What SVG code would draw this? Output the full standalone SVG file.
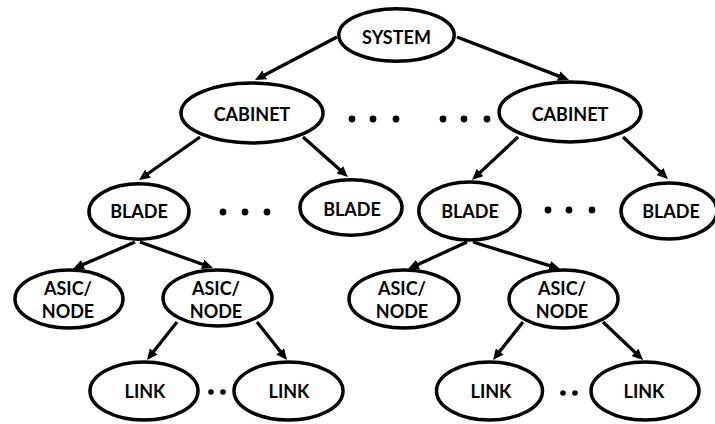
<svg xmlns="http://www.w3.org/2000/svg" width="715" height="424" viewBox="0 0 715 424">
  <style>
    .node ellipse { fill: #ffffff; stroke: #000000; stroke-width: 3.5; }
    .node text { font-family: Lato, "Liberation Sans", Arial, sans-serif; font-weight: bold; font-size: 18px; fill: #000000; text-anchor: middle; }
    .edges line { stroke: #000000; stroke-width: 3.3; marker-end: url(#arrow); }
    .dots circle { fill: #000000; }
  </style>
  <defs>
    <marker id="arrow" markerUnits="userSpaceOnUse" markerWidth="12" markerHeight="10" refX="5" refY="5" orient="auto">
      <path d="M0,0 L11,5 L0,10 z" fill="#000000"/>
    </marker>
  </defs>
  <rect width="715" height="424" fill="#ffffff"/>

  <!-- parent-to-child arrows -->
  <g id="connectors" class="edges">
    <line x1="337" y1="37" x2="260.3" y2="77.2"/>
    <line x1="457" y1="37" x2="563.4" y2="77.9"/>
    <line x1="200" y1="137" x2="143.9" y2="176.5"/>
    <line x1="303" y1="137" x2="343.5" y2="173"/>
    <line x1="518" y1="137" x2="476.4" y2="175.9"/>
    <line x1="623" y1="137" x2="663.6" y2="174.9"/>
    <line x1="135" y1="242" x2="78.5" y2="266.6"/>
    <line x1="140" y1="242" x2="207.3" y2="266"/>
    <line x1="467" y1="242" x2="413.5" y2="266.5"/>
    <line x1="473" y1="242" x2="554.3" y2="267.2"/>
    <line x1="177" y1="322" x2="150.7" y2="355.3"/>
    <line x1="257" y1="322" x2="283.3" y2="355.3"/>
    <line x1="523" y1="322" x2="496.7" y2="355.3"/>
    <line x1="603" y1="322" x2="638.7" y2="355.9"/>
  </g>

  <!-- ellipsis marks between siblings -->
  <g id="ellipses" class="dots">
    <circle cx="352" cy="119" r="3.4"/>
    <circle cx="373" cy="119" r="3.4"/>
    <circle cx="396" cy="119" r="3.4"/>
    <circle cx="443" cy="119" r="3.4"/>
    <circle cx="464" cy="119" r="3.4"/>
    <circle cx="487" cy="119" r="3.4"/>
    <circle cx="223" cy="212" r="3.4"/>
    <circle cx="245" cy="212" r="3.4"/>
    <circle cx="267" cy="212" r="3.4"/>
    <circle cx="548" cy="210" r="3.4"/>
    <circle cx="569" cy="210" r="3.4"/>
    <circle cx="592" cy="210" r="3.4"/>
    <circle cx="211" cy="392" r="2.8"/>
    <circle cx="223" cy="392" r="2.8"/>
    <circle cx="563" cy="393" r="2.8"/>
    <circle cx="575" cy="393" r="2.8"/>
  </g>

  <g id="system" class="node">
    <ellipse cx="396.5" cy="35" rx="57.7" ry="26.3"/>
    <text x="396.5" y="44">SYSTEM</text>
  </g>

  <g id="cabinet-1" class="node">
    <ellipse cx="252" cy="113" rx="71" ry="30"/>
    <text x="252" y="121">CABINET</text>
  </g>
  <g id="cabinet-2" class="node">
    <ellipse cx="570" cy="112" rx="71" ry="30"/>
    <text x="570" y="121">CABINET</text>
  </g>

  <g id="blade-1a" class="node">
    <ellipse cx="139" cy="211.5" rx="50" ry="27.7"/>
    <text x="139" y="218">BLADE</text>
  </g>
  <g id="blade-1b" class="node">
    <ellipse cx="351" cy="207.5" rx="51" ry="27.7"/>
    <text x="352" y="216">BLADE</text>
  </g>
  <g id="blade-2a" class="node">
    <ellipse cx="469.5" cy="211" rx="50.7" ry="29"/>
    <text x="470" y="218">BLADE</text>
  </g>
  <g id="blade-2b" class="node">
    <ellipse cx="669" cy="211" rx="48" ry="28"/>
    <text x="671" y="218">BLADE</text>
  </g>

  <g id="asic-1a" class="node">
    <ellipse cx="69" cy="299" rx="54" ry="29"/>
    <text x="68" y="295">ASIC/</text>
    <text x="68" y="318">NODE</text>
  </g>
  <g id="asic-1b" class="node">
    <ellipse cx="217.5" cy="298" rx="54.5" ry="28"/>
    <text x="216" y="295">ASIC/</text>
    <text x="216" y="318">NODE</text>
  </g>
  <g id="asic-2a" class="node">
    <ellipse cx="404" cy="299" rx="55" ry="29"/>
    <text x="402" y="295">ASIC/</text>
    <text x="402" y="318">NODE</text>
  </g>
  <g id="asic-2b" class="node">
    <ellipse cx="563.5" cy="299" rx="54.5" ry="29"/>
    <text x="562" y="295">ASIC/</text>
    <text x="562" y="318">NODE</text>
  </g>

  <g id="link-1a" class="node">
    <ellipse cx="144" cy="391" rx="54" ry="29"/>
    <text x="145" y="398">LINK</text>
  </g>
  <g id="link-1b" class="node">
    <ellipse cx="288.5" cy="391" rx="54.5" ry="29"/>
    <text x="289" y="398">LINK</text>
  </g>
  <g id="link-2a" class="node">
    <ellipse cx="489.5" cy="391" rx="53" ry="29"/>
    <text x="491" y="398">LINK</text>
  </g>
  <g id="link-2b" class="node">
    <ellipse cx="645" cy="391" rx="54" ry="29"/>
    <text x="644" y="398">LINK</text>
  </g>
</svg>
